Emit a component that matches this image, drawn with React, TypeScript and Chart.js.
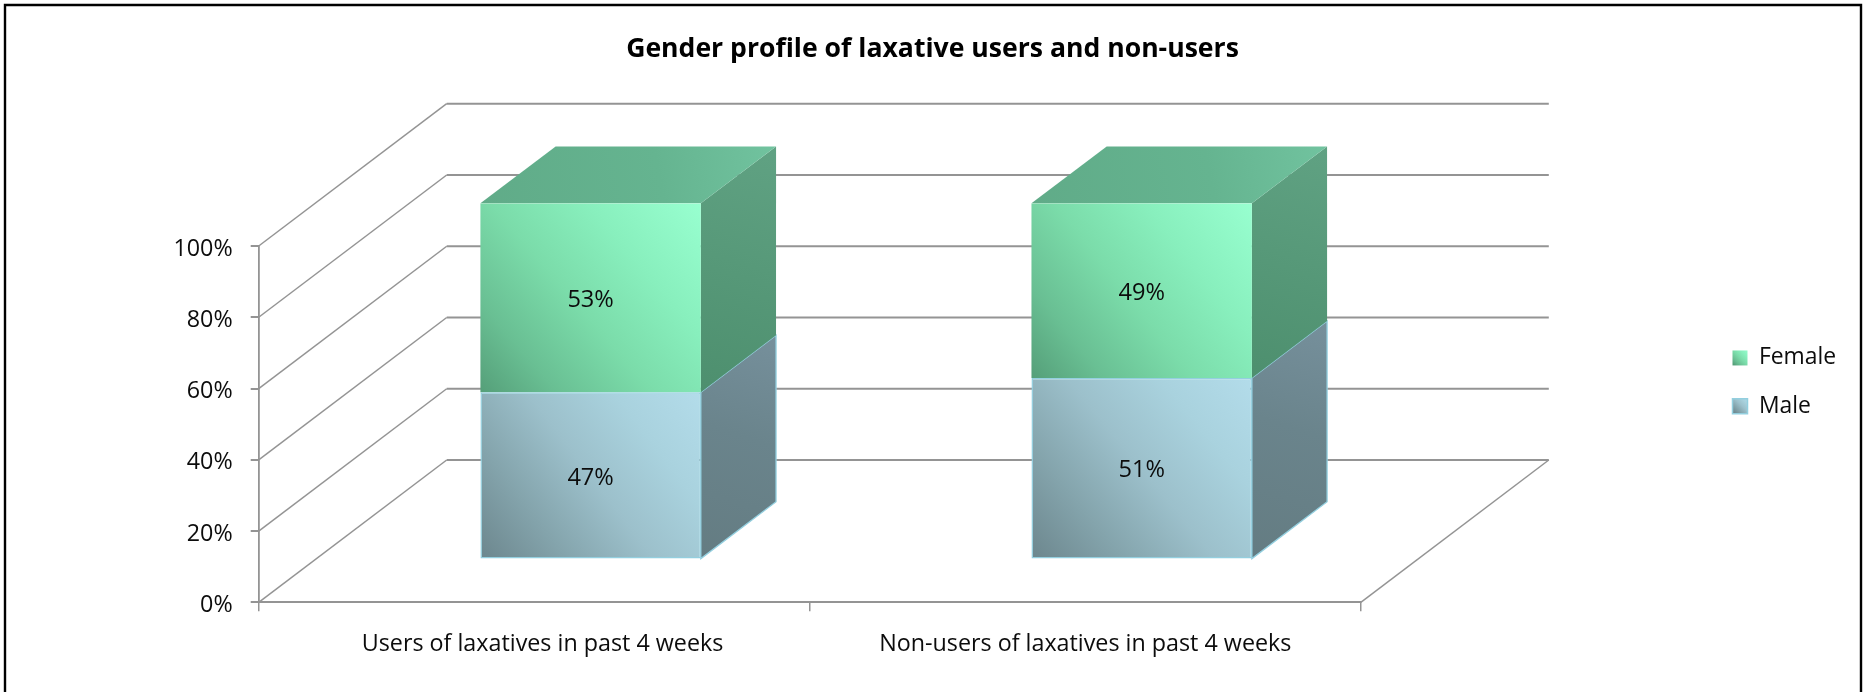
import React, { useEffect, useRef } from "react";
import { Chart, registerables } from "chart.js";

Chart.register(...registerables);

const chartTitle = "Gender profile of laxative users and non-users";
const categories = ["Users of laxatives in past 4 weeks", "Non-users of laxatives in past 4 weeks"];
const maleValues = [47, 51];
const femaleValues = [53, 49];
const yTickStep = 20;

const W = 1865;
const H = 692;
const FONT = "'Open Sans', Lato, sans-serif";
const LINE = "#949494";

// oblique projection of the 3D box
const DEPTH_X = 188;
const DEPTH_Y = -142.3;
const BAR_NEAR = 0.3;
const BAR_DEPTH = 0.4;

const AREA_LEFT = 258.7;
const AREA_RIGHT = 1360.8;
const AREA_TOP = 246;
const AREA_BOTTOM = 602.3;

const femaleFront: [number, string][] = [
  [0, "#559f79"],
  [0.2, "#69bf93"],
  [0.45, "#7bdcaa"],
  [0.7, "#88efbd"],
  [1, "#98ffd0"],
];
const maleFront: [number, string][] = [
  [0, "#6c868d"],
  [0.25, "#84a4ac"],
  [0.5, "#9cc0cb"],
  [0.75, "#a9d2de"],
  [1, "#b3dcea"],
];
const MALE_EDGE = "#93cfdf";

function grad(
  ctx: CanvasRenderingContext2D,
  x0: number,
  y0: number,
  x1: number,
  y1: number,
  stops: [number, string][]
) {
  const g = ctx.createLinearGradient(x0, y0, x1, y1);
  stops.forEach(([o, c]) => g.addColorStop(o, c));
  return g;
}

function frontFill(c: any, stops: [number, string][], flat: string) {
  const { chart, dataIndex, datasetIndex } = c;
  if (dataIndex === undefined || !chart.scales.x) return flat;
  const xs = chart.scales.x;
  const ys = chart.scales.y;
  const cx = xs.getPixelForValue(dataIndex);
  const half = (xs.width / 2) * 0.2;
  let below = 0;
  for (let i = 0; i < datasetIndex; i++) below += chart.data.datasets[i].data[dataIndex];
  const val = chart.data.datasets[datasetIndex].data[dataIndex];
  const yBase = ys.getPixelForValue(below);
  const yTop = ys.getPixelForValue(below + val);
  if (![cx, half, yBase, yTop].every(Number.isFinite)) return flat;
  return grad(chart.ctx, cx - half, yBase, cx + half, yTop, stops);
}

function poly(ctx: CanvasRenderingContext2D, pts: number[][], fill: any, stroke?: string) {
  ctx.beginPath();
  pts.forEach((p, i) => (i ? ctx.lineTo(p[0], p[1]) : ctx.moveTo(p[0], p[1])));
  ctx.closePath();
  ctx.fillStyle = fill;
  ctx.fill();
  if (stroke) {
    ctx.strokeStyle = stroke;
    ctx.lineWidth = 1.3;
    ctx.stroke();
  }
}

const box3d = {
  id: "box3d",
  afterLayout(chart: any) {
    const lg = chart.legend;
    if (lg) {
      lg.left = 1733 - 26;
      lg.right = 1860;
      lg.top = 346.5 - 25.5;
      lg.bottom = 500;
    }
    const tt = chart.titleBlock;
    if (tt) {
      tt.left = 0;
      tt.right = W;
      tt.width = W;
    }
    const items = chart.scales.x.getLabelItems(chart.chartArea);
    if (items[0]) items[0].options.translation[0] += 8.3;
  },
  beforeDraw(chart: any) {
    const ctx = chart.ctx;
    ctx.save();
    ctx.fillStyle = "#fff";
    ctx.fillRect(0, 0, W, H);
    ctx.strokeStyle = "#000";
    ctx.lineWidth = 2.4;
    ctx.beginPath();
    ctx.moveTo(5, H);
    ctx.lineTo(5, 5);
    ctx.lineTo(1861, 5);
    ctx.lineTo(1861, H);
    ctx.stroke();
    ctx.restore();
  },
  beforeDatasetsDraw(chart: any) {
    const ctx = chart.ctx;
    const { x: xs, y: ys } = chart.scales;
    const left = xs.left;
    const right = xs.right;
    ctx.save();
    ctx.strokeStyle = LINE;
    ys.ticks.forEach((t: any) => {
      const y = ys.getPixelForValue(t.value);
      ctx.lineWidth = 1.5;
      ctx.beginPath();
      ctx.moveTo(left, y);
      ctx.lineTo(left + DEPTH_X, y + DEPTH_Y);
      ctx.stroke();
      ctx.lineWidth = 2;
      ctx.beginPath();
      ctx.moveTo(left + DEPTH_X, y + DEPTH_Y);
      ctx.lineTo(right + DEPTH_X, y + DEPTH_Y);
      ctx.stroke();
    });
    const y0 = ys.getPixelForValue(0);
    ctx.lineWidth = 1.5;
    ctx.beginPath();
    ctx.moveTo(right + DEPTH_X, y0 + DEPTH_Y);
    ctx.lineTo(right, y0);
    ctx.stroke();

    const ox = DEPTH_X * BAR_NEAR;
    const oy = DEPTH_Y * BAR_NEAR;
    const bx = DEPTH_X * BAR_DEPTH;
    const by = DEPTH_Y * BAR_DEPTH;
    // side and top faces, bottom of the stack first
    chart.data.datasets.forEach((ds: any, di: number) => {
      const isMale = di === 0;
      chart.getDatasetMeta(di).data.forEach((el: any) => {
        const p = el.getProps(["x", "y", "base", "width"], true);
        const r = p.x + p.width / 2 + ox;
        const l = p.x - p.width / 2 + ox;
        const t = p.y + oy;
        const b = p.base + oy;
        const side = isMale
          ? grad(ctx, r, b, r + bx, t + by, [[0, "#647c82"], [0.55, "#6a848c"], [1, "#76909c"]])
          : grad(ctx, r, b, r + bx, t + by, [[0, "#4d8f6e"], [1, "#60a283"]]);
        poly(ctx, [[r, b], [r + bx, b + by], [r + bx, t + by], [r, t]], side, isMale ? MALE_EDGE : undefined);
        if (di === chart.data.datasets.length - 1) {
          const top = grad(ctx, l, t, r + bx, t + by, [[0, "#60ab88"], [0.6, "#65b490"], [1, "#71c39f"]]);
          poly(ctx, [[l, t], [r, t], [r + bx, t + by], [l + bx, t + by]], top);
        }
      });
    });
    ctx.restore();
    // the library's bars become the front faces, moved into the depth of the box
    ctx.save();
    ctx.translate(ox, oy);
  },
  afterDatasetsDraw(chart: any) {
    const ctx = chart.ctx;
    ctx.restore();
    const ox = DEPTH_X * BAR_NEAR;
    const oy = DEPTH_Y * BAR_NEAR;
    ctx.save();
    ctx.fillStyle = "#0c0c0c";
    ctx.font = `23.6px ${FONT}`;
    ctx.textAlign = "center";
    ctx.textBaseline = "middle";
    chart.data.datasets.forEach((ds: any, di: number) => {
      chart.getDatasetMeta(di).data.forEach((el: any, i: number) => {
        const p = el.getProps(["x", "y", "base"], true);
        ctx.fillText(`${ds.data[i]}%`, p.x + ox, (p.y + p.base) / 2 + oy + 2.5);
      });
    });
    ctx.restore();
  },
};

export default function App() {
  const ref = useRef<HTMLCanvasElement>(null);
  useEffect(() => {
    const canvas = ref.current!;
    const c2d = canvas.getContext("2d")!;
    const chart = new Chart(canvas, {
      type: "bar",
      data: {
        labels: categories,
        datasets: [
          {
            label: "Male",
            data: maleValues,
            backgroundColor: (c: any) => frontFill(c, maleFront, "#9cc0cb"),
            borderColor: MALE_EDGE,
            borderWidth: 1.5,
            borderSkipped: false,
          },
          {
            label: "Female",
            data: femaleValues,
            backgroundColor: (c: any) => frontFill(c, femaleFront, "#7bdcaa"),
            borderWidth: 0,
          },
        ],
      },
      options: {
        responsive: false,
        animation: false,
        devicePixelRatio: 1,
        layout: { padding: { left: 0, top: 0, bottom: 0, right: W - AREA_RIGHT } },
        datasets: { bar: { categoryPercentage: 1, barPercentage: 0.4 } },
        scales: {
          x: {
            stacked: true,
            afterFit: (s: any) => {
              s.height = H - AREA_BOTTOM;
            },
            grid: { drawOnChartArea: false, color: LINE, lineWidth: 1.5, tickLength: 9 },
            border: { color: LINE, width: 2 },
            ticks: { color: "#0c0c0c", font: { family: FONT, size: 23.3 }, padding: 19, maxRotation: 0, autoSkip: false },
          },
          y: {
            stacked: true,
            min: 0,
            max: 100,
            afterFit: (s: any) => {
              s.width = AREA_LEFT;
            },
            grid: { drawOnChartArea: false, color: LINE, lineWidth: 2, tickLength: 8 },
            border: { color: LINE, width: 1.8 },
            ticks: {
              stepSize: yTickStep,
              color: "#0c0c0c",
              font: { family: FONT, size: 23.3 },
              padding: 18,
              labelOffset: 3,
              callback: (v: any) => `${v}%`,
            },
          },
        },
        plugins: {
          title: {
            display: true,
            text: chartTitle,
            color: "#000",
            font: { family: FONT, size: 26.6, weight: "bold", lineHeight: 1.2 },
            padding: { top: 33.5, bottom: AREA_TOP - 65.4 },
          },
          tooltip: { enabled: false },
          legend: {
            display: true,
            position: "chartArea",
            reverse: true,
            align: "start",
            labels: {
              color: "#0c0c0c",
              font: { family: FONT, size: 22.9 },
              boxWidth: 15,
              boxHeight: 15,
              padding: 25.5,
              generateLabels: (ch: any) =>
                Chart.defaults.plugins.legend.labels.generateLabels(ch).map((it: any) => {
                  const male = it.datasetIndex === 0;
                  const y = male ? 397 : 349;
                  return {
                    ...it,
                    fillStyle: grad(c2d, 1733, y + 15, 1748, y, male ? maleFront : femaleFront),
                    strokeStyle: male ? MALE_EDGE : "rgba(0,0,0,0)",
                    lineWidth: male ? 1.5 : 0,
                  };
                }),
            },
          },
        },
      } as any,
      plugins: [box3d],
    });
    return () => chart.destroy();
  }, []);
  return (
    <div style={{ position: "absolute", left: 0, top: 0, width: W, height: H, background: "#fff" }}>
      <canvas ref={ref} width={W} height={H} style={{ display: "block", width: W, height: H }} />
    </div>
  );
}
